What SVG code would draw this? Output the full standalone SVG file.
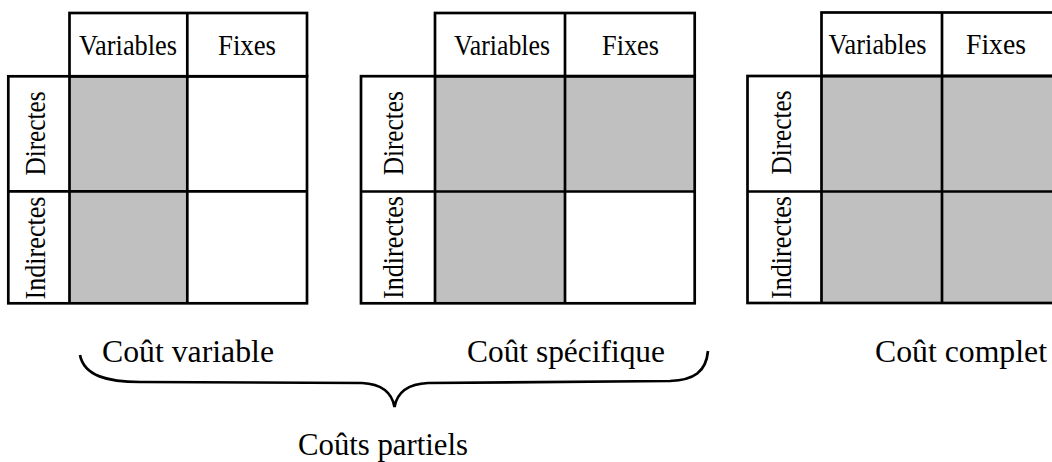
<svg xmlns="http://www.w3.org/2000/svg" width="1052" height="462" viewBox="0 0 1052 462">
<style>
.bg{fill:#ffffff}
.g{fill:#c0c0c0;stroke:none}
.ln{fill:none;stroke:#000;stroke-width:2.7}
.t{font-family:"Liberation Serif","Times New Roman",serif;font-size:28.5px;fill:#000}
.tc{text-anchor:middle}
.b{font-family:"Liberation Serif","Times New Roman",serif;font-size:31px;fill:#000}
</style>
<rect class="bg" x="0" y="0" width="1052" height="462"/>

<g id="grid1">
<rect class="g" x="69.5" y="76.3" width="117.8" height="227"/>
<rect class="ln" x="69.5" y="13" width="237.5" height="63.3"/>
<rect class="ln" x="8.3" y="76.3" width="298.7" height="227"/>
<path class="ln" d="M69.5 76.3V303.3M187.3 13V303.3M8.3 191.3H307"/>
<text class="t tc" x="128" y="54.5" textLength="98" lengthAdjust="spacingAndGlyphs">Variables</text>
<text class="t tc" x="247" y="54.5" textLength="58" lengthAdjust="spacingAndGlyphs">Fixes</text>
<text class="t tc" transform="translate(45,133.5) rotate(-90)" textLength="84" lengthAdjust="spacingAndGlyphs">Directes</text>
<text class="t tc" transform="translate(45,248) rotate(-90)" textLength="103" lengthAdjust="spacingAndGlyphs">Indirectes</text>
</g>

<g id="grid2">
<rect class="g" x="435" y="76.2" width="130" height="227"/>
<rect class="g" x="565" y="76.2" width="129.7" height="115.3"/>
<rect class="ln" x="435" y="13" width="259.7" height="63.2"/>
<rect class="ln" x="361" y="76.2" width="333.7" height="227.1"/>
<path class="ln" d="M435 76.2V303.3M565 13V303.3M361 191.5H694.7"/>
<text class="t tc" x="502" y="54.5" textLength="96" lengthAdjust="spacingAndGlyphs">Variables</text>
<text class="t tc" x="630.5" y="54.5" textLength="57" lengthAdjust="spacingAndGlyphs">Fixes</text>
<text class="t tc" transform="translate(403.3,133.3) rotate(-90)" textLength="84" lengthAdjust="spacingAndGlyphs">Directes</text>
<text class="t tc" transform="translate(403.3,247.5) rotate(-90)" textLength="103" lengthAdjust="spacingAndGlyphs">Indirectes</text>
</g>

<g id="grid3">
<rect class="g" x="821.5" y="76" width="234.5" height="227"/>
<rect class="ln" x="821.5" y="12.5" width="234.5" height="63.5"/>
<rect class="ln" x="747.5" y="76" width="308.5" height="227"/>
<path class="ln" d="M821.5 76V303M942 12.5V303M747.5 191.5H1056"/>
<text class="t tc" x="877.5" y="54" textLength="98" lengthAdjust="spacingAndGlyphs">Variables</text>
<text class="t tc" x="996" y="54" textLength="60" lengthAdjust="spacingAndGlyphs">Fixes</text>
<text class="t tc" transform="translate(790.7,132.5) rotate(-90)" textLength="84" lengthAdjust="spacingAndGlyphs">Directes</text>
<text class="t tc" transform="translate(790.7,247.5) rotate(-90)" textLength="103" lengthAdjust="spacingAndGlyphs">Indirectes</text>
</g>

<g id="connectors">
<path class="ln" d="M80 355C84 376 108 382 140 382L362 383C382 384 392 393 394.5 407C397 393 407 384 428 383L670 381C694 380 706 372 708 351"/>
</g>

<g id="labels">
<text id="cout-variable" class="b" x="102" y="362" textLength="172" lengthAdjust="spacingAndGlyphs">Coût variable</text>
<text id="cout-specifique" class="b" x="467" y="362" textLength="198" lengthAdjust="spacingAndGlyphs">Coût spécifique</text>
<text id="cout-complet" class="b" x="875" y="362" textLength="172" lengthAdjust="spacingAndGlyphs">Coût complet</text>
<text id="couts-partiels" class="b" x="298" y="455" textLength="170" lengthAdjust="spacingAndGlyphs">Coûts partiels</text>
</g>
</svg>
